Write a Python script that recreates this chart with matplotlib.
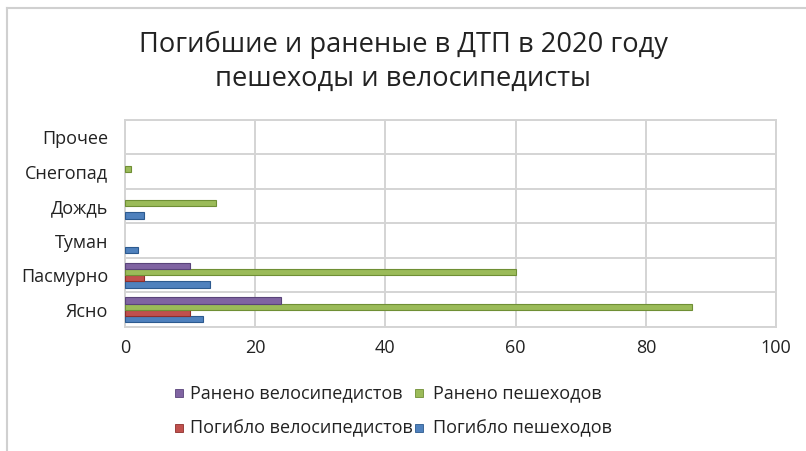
import matplotlib
matplotlib.use("Agg")
import matplotlib.pyplot as plt
import numpy as np
from matplotlib.patches import Rectangle
from matplotlib.lines import Line2D

plt.rcParams['font.family'] = ['Open Sans', 'DejaVu Sans']

categories = ["Ясно", "Пасмурно", "Туман", "Дождь", "Снегопад", "Прочее"]
killed_pedestrians = [12, 13, 2, 3, 0, 0]
killed_cyclists = [10, 3, 0, 0, 0, 0]
injured_pedestrians = [87, 60, 0, 14, 1, 0]
injured_cyclists = [24, 10, 0, 0, 0, 0]

series = [
    ("Погибло пешеходов", killed_pedestrians, "#4F81BD", "#2C5A8F"),
    ("Погибло велосипедистов", killed_cyclists, "#C0504D", "#8E2F2C"),
    ("Ранено пешеходов", injured_pedestrians, "#9BBB59", "#6F8F35"),
    ("Ранено велосипедистов", injured_cyclists, "#8064A2", "#5A447A"),
]

fig = plt.figure(figsize=(8.06, 4.51), dpi=100)
ax = fig.add_axes([0.155, 0.275, 0.808, 0.459])

y = np.arange(len(categories))
h = 0.18
for i, (name, vals, col, edge) in enumerate(series):
    offs = (i - 1.5) * h
    vals = np.asarray(vals, dtype=float)
    lw = np.where(vals > 0, 0.8, 0.0)
    ax.barh(y + offs, vals, height=h, color=col, edgecolor=edge,
            linewidth=lw, zorder=3)

ax.set_xlim(0, 100)
ax.set_ylim(-0.5, len(categories) - 0.5)
ax.set_xticks([0, 20, 40, 60, 80, 100])
ax.set_yticks(y)
ax.set_yticklabels(categories)
ax.tick_params(axis='both', length=0, labelsize=13, colors='#222222')
ax.tick_params(axis='x', pad=9)
ax.tick_params(axis='y', pad=12)

grid_col = "#D4D4D4"
ax.grid(axis='x', color=grid_col, linewidth=1.4, zorder=0)
for b in np.arange(-0.5, len(categories), 1.0):
    ax.axhline(b, color=grid_col, linewidth=1.4, zorder=0)
for s in ax.spines.values():
    s.set_color(grid_col)
    s.set_linewidth(1.4)

fig.text(0.5, 0.900, "Погибшие и раненые в ДТП в 2020 году", ha='center', va='center',
         fontsize=19.6, color='#222222')
fig.text(0.5, 0.826, "пешеходы и велосипедисты", ha='center', va='center',
         fontsize=19.6, color='#222222')

# legend laid out as a 2x2 grid
legend_items = [
    ("Ранено велосипедистов", "#8064A2", "#5A447A", 0.217, 0.236, 0.129),
    ("Ранено пешеходов", "#9BBB59", "#6F8F35", 0.515, 0.537, 0.129),
    ("Погибло велосипедистов", "#C0504D", "#8E2F2C", 0.217, 0.236, 0.051),
    ("Погибло пешеходов", "#4F81BD", "#2C5A8F", 0.515, 0.537, 0.051),
]
for name, col, edge, mx, tx, ly in legend_items:
    fig.patches.append(Rectangle((mx, ly - 0.009), 0.0095, 0.018,
                                 transform=fig.transFigure, facecolor=col,
                                 edgecolor=edge, linewidth=0.6))
    fig.text(tx, ly, name, ha='left', va='center', fontsize=13,
             color='#222222')

# outer chart frame
fig.add_artist(Line2D([0.009, 0.009], [0.0, 0.982], transform=fig.transFigure,
                      color="#D0D0D0", linewidth=1.5))
fig.add_artist(Line2D([0.009, 1.0], [0.982, 0.982], transform=fig.transFigure,
                      color="#D0D0D0", linewidth=1.5))

fig.savefig("out.png", dpi=100, facecolor='white')
